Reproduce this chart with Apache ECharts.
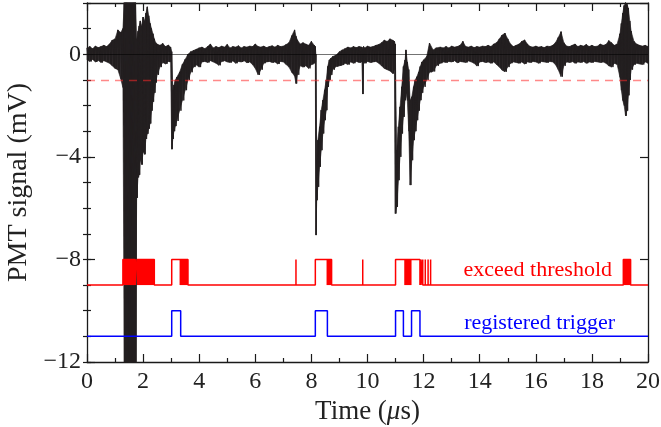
<!DOCTYPE html>
<html><head><meta charset="utf-8">
<script src="https://cdn.jsdelivr.net/npm/echarts@6/dist/echarts.min.js"></script>
<style>html,body{margin:0;padding:0;background:#fff}#c{width:661px;height:427px}</style>
</head><body><div id="c"></div>
<script>
// ---- data ----
// PMT trace: sample times (us), upper and lower edge of the noisy trace (mV)
const traceT = [0.0,0.1,0.2,0.3,0.4,0.5,0.6,0.7,0.8,0.9,1.0,1.1,1.2,1.28,
 1.33,1.37,1.41,1.45,1.49,1.53,1.57,1.61,1.65,1.69,1.73,
 1.77,1.82,1.86,1.90,1.95,2.00,2.05,2.10,2.15,2.20,2.25,2.30,2.35,2.40,2.45,2.50,2.60,2.70,2.80,2.90,2.98,
 3.02,3.06,3.10,3.15,3.20,3.30,3.40,3.50,3.60,3.70,3.80,3.90,4.00,
 4.1,4.2,4.3,4.4,4.5,4.6,4.7,4.8,4.9,5.0,5.1,5.2,5.3,5.4,5.5,5.6,5.7,5.8,5.9,6.0,6.1,6.2,6.3,6.4,6.5,6.6,6.7,6.8,6.9,7.0,
 7.1,7.2,7.3,7.4,7.45,7.5,7.6,7.7,7.8,7.9,8.0,8.1,8.14,
 8.16,8.19,8.23,8.29,8.35,8.41,8.47,8.53,8.58,8.64,8.70,8.76,8.88,
 9.0,9.1,9.2,9.3,9.4,9.5,9.6,9.7,9.8,9.83,9.86,9.9,10.0,10.1,10.2,10.3,10.4,10.5,10.6,10.7,10.8,10.9,10.96,
 10.99,11.04,11.10,11.16,11.22,11.28,11.34,11.37,11.42,11.47,11.52,11.58,11.64,11.70,11.76,11.82,11.88,11.94,12.00,12.11,12.21,12.34,12.45,
 12.6,12.7,12.8,12.9,13.0,13.1,13.2,13.3,13.4,13.5,13.6,13.7,13.8,13.9,14.0,14.1,14.2,14.3,14.4,14.5,14.6,14.7,14.8,14.9,15.0,
 15.1,15.2,15.3,15.4,15.5,15.6,15.7,15.8,15.9,16.0,16.1,16.2,16.3,16.4,16.5,16.6,16.7,16.8,16.9,17.0,
 17.1,17.2,17.3,17.4,17.5,17.6,17.7,17.8,17.9,18.0,18.1,18.2,18.3,18.4,18.5,18.6,18.7,18.8,18.9,
 19.0,19.05,19.1,19.15,19.2,19.25,19.3,19.35,19.4,19.5,19.6,19.7,19.8,19.9,20.0];
const traceHi = [0.25,0.30,0.22,0.32,0.26,0.30,0.35,0.30,0.40,0.55,0.60,0.95,0.85,1.00,
 3,3,3,3,3,3,3,3,3,3,3,
 0.60,0.90,1.10,1.30,1.10,1.45,1.30,1.60,1.85,1.50,1.20,1.00,0.80,0.60,0.45,0.40,0.35,0.42,0.30,0.36,0.28,
 0.10,-1.40,-1.20,-1.00,-0.90,-0.70,-0.40,-0.20,0.00,0.10,0.15,0.20,0.25,
 0.28,0.22,0.30,0.40,0.25,0.30,0.26,0.32,0.28,0.38,0.25,0.30,0.28,0.33,0.25,0.30,0.28,0.32,0.30,0.40,0.30,0.28,0.32,0.26,0.30,0.33,0.28,0.35,0.30,0.32,
 0.38,0.45,0.72,0.95,0.70,0.56,0.40,0.45,0.40,0.35,0.50,0.35,0.30,
 0.00,-4.13,-3.35,-2.83,-2.18,-1.79,-1.39,-1.00,-0.48,-0.22,-0.15,-0.09,-0.03,
 0.10,0.17,0.22,0.28,0.25,0.30,0.26,0.30,0.28,0.20,0.30,0.25,0.32,0.28,0.30,0.35,0.38,0.45,0.55,0.50,0.60,0.55,0.50,
 0.40,-3.74,-2.83,-2.05,-1.27,-0.48,-0.22,0.17,-0.30,-0.60,-1.79,-1.66,-1.27,-1.00,-0.88,-0.70,-0.48,-0.30,-0.22,-0.09,0.44,0.17,0.25,
 0.28,0.25,0.30,0.25,0.32,0.28,0.30,0.35,0.50,0.30,0.28,0.32,0.26,0.30,0.28,0.32,0.30,0.35,0.30,0.40,0.45,0.60,0.75,0.82,0.60,
 0.40,0.30,0.35,0.40,0.50,0.56,0.40,0.30,0.28,0.32,0.28,0.30,0.26,0.32,0.30,0.35,0.45,0.65,0.88,0.45,
 0.32,0.30,0.35,0.40,0.30,0.35,0.32,0.38,0.30,0.35,0.30,0.32,0.40,0.35,0.38,0.53,0.45,0.35,0.40,
 0.80,1.20,1.60,1.90,2.05,1.95,1.80,1.30,0.90,0.50,0.40,0.35,0.32,0.35,0.30];
const traceLo = [-0.22,-0.28,-0.20,-0.30,-0.24,-0.32,-0.25,-0.30,-0.35,-0.45,-0.55,-0.60,-0.95,-1.30,
 -13,-13,-13,-13,-13,-13,-13,-13,-13,-13,-13,
 -5.60,-4.80,-4.70,-4.10,-4.30,-3.80,-3.90,-3.30,-3.10,-2.90,-2.70,-2.20,-1.85,-1.50,-1.10,-0.80,-0.50,-0.32,-0.38,-0.28,-0.30,
 -3.70,-3.30,-3.00,-2.80,-2.60,-2.20,-1.80,-1.40,-1.00,-0.70,-0.50,-0.42,-0.50,
 -0.30,-0.28,-0.32,-0.25,-0.30,-0.35,-0.43,-0.28,-0.25,-0.30,-0.32,-0.26,-0.35,-0.28,-0.30,-0.25,-0.33,-0.30,-0.40,-0.55,-0.80,-0.60,-0.35,-0.30,-0.28,-0.32,-0.30,-0.38,-0.28,-0.30,
 -0.40,-0.50,-0.70,-0.85,-1.14,-0.80,-0.45,-0.50,-0.45,-0.55,-0.40,-0.35,-0.30,
 -7.05,-5.69,-5.17,-4.39,-3.74,-3.09,-2.57,-2.18,-1.27,-1.00,-0.80,-0.60,-0.48,
 -0.45,-0.42,-0.35,-0.40,-0.30,-0.35,-0.28,-0.32,-0.30,-1.55,-0.30,-0.35,-0.28,-0.32,-0.30,-0.28,-0.35,-0.45,-0.55,-0.60,-0.65,-0.75,-0.60,
 -6.21,-5.95,-4.91,-4.00,-3.09,-2.44,-1.79,-1.50,-1.80,-3.00,-5.10,-4.13,-3.35,-3.00,-2.57,-2.20,-1.79,-1.50,-1.27,-1.00,-0.70,-0.67,-0.45,
 -0.35,-0.30,-0.32,-0.28,-0.30,-0.25,-0.33,-0.28,-0.30,-0.32,-0.26,-0.30,-0.35,-0.46,-0.30,-0.28,-0.32,-0.30,-0.35,-0.30,-0.40,-0.50,-0.62,-0.68,-0.50,
 -0.35,-0.30,-0.32,-0.35,-0.30,-0.38,-0.30,-0.32,-0.28,-0.30,-0.35,-0.28,-0.30,-0.32,-0.28,-0.30,-0.40,-0.60,-0.87,-0.45,
 -0.30,-0.32,-0.28,-0.35,-0.30,-0.32,-0.28,-0.35,-0.30,-0.32,-0.28,-0.30,-0.32,-0.30,-0.35,-0.45,-0.50,-0.35,-0.40,
 -0.90,-1.40,-1.80,-2.00,-2.40,-2.20,-1.60,-1.00,-0.60,-0.40,-0.35,-0.38,-0.40,-0.30,-0.35];

// "exceed threshold" digital signal (us)
const threshOpen = [[1.28,1.72],[1.78,2.40],[3.02,3.60],[8.14,8.72],[11.00,11.87],[19.12,19.38]];
const threshDense = [[1.28,1.72],[1.78,2.40],[3.30,3.60],[8.54,8.72],[11.31,11.57],[19.12,19.38]];
const threshSpikes = [7.45,9.83,11.91,11.97,12.06,12.16,12.25];
// "registered trigger" digital signal (us)
const triggerPulses = [[3.02,3.34],[8.14,8.57],[11.00,11.28],[11.57,11.87]];

const thresholdLevel = -1;
const threshLow = -9, threshHigh = -8;
const trigLow = -11, trigHigh = -10;
const xRange = [0, 20];
const yRange = [-12, 2];

// ---- build series data ----
const zig = [];
for (let i = 0; i < traceT.length; i++) {
  const t = traceT[i];
  const tn = i + 1 < traceT.length ? traceT[i + 1] : t;
  zig.push([t, traceHi[i]], [(t + tn) / 2, traceLo[i]]);
}
function stepSignal(pulses, spikes, lo, hi) {
  const ev = pulses.map(p => [p[0], p[1]]).concat(spikes.map(s => [s, s]));
  ev.sort((a, b) => a[0] - b[0]);
  const d = [[xRange[0], lo]];
  ev.forEach(([s, e]) => { d.push([s, lo], [s, hi], [e, hi], [e, lo]); });
  d.push([xRange[1], lo]);
  return d;
}
const redData = stepSignal(threshOpen, threshSpikes, threshLow, threshHigh);
const blueData = stepSignal(triggerPulses, [], trigLow, trigHigh);
const bandData = traceT.map((t, i) => [t, traceHi[i], traceLo[i]]);
const clampY = v => Math.max(yRange[0], Math.min(yRange[1], v));

const FONT = "'Liberation Serif', 'DejaVu Serif', serif";
const fmt = v => v < 0 ? '\u2212' + Math.abs(v) : String(v);
const INK = '#231f20';

const chart = echarts.init(document.getElementById('c'), null, {renderer: 'canvas'});
const axisLineStyle = {color: '#1a1a1a', width: 1.3};
const tickStyle = {color: '#1a1a1a', width: 1.2};
const baseX = (extra) => Object.assign({
  type: 'value', min: xRange[0], max: xRange[1], interval: 2,
  axisLine: {show: true, onZero: false, lineStyle: axisLineStyle},
  axisTick: {show: true, inside: true, length: 8, lineStyle: tickStyle},
  minorTick: {show: true, splitNumber: 2, length: 4, lineStyle: tickStyle},
  splitLine: {show: false}, minorSplitLine: {show: false}
}, extra);
const baseY = (extra) => Object.assign({
  type: 'value', min: yRange[0], max: yRange[1],
  axisLine: {show: true, onZero: false, lineStyle: axisLineStyle},
  splitLine: {show: false}
}, extra);

chart.setOption({
  animation: false,
  backgroundColor: '#fff',
  grid: {left: 87, right: 13, top: 3, bottom: 65, containLabel: false, outerBoundsMode: 'none'},
  xAxis: [
    baseX({position: 'bottom',
      axisLabel: {show: true, color: '#222', fontFamily: FONT, fontSize: 24, margin: 8, formatter: fmt},
      name: 'Time ({i|\u03bc}s)', nameLocation: 'middle', nameGap: 35,
      nameTextStyle: {color: '#222', fontFamily: FONT, fontSize: 27,
        rich: {i: {fontStyle: 'italic', fontFamily: FONT, fontSize: 27, color: '#222'}}}}),
    baseX({position: 'top', axisLabel: {show: false}})
  ],
  yAxis: [
    baseY({position: 'left', interval: 4,
      axisTick: {show: true, inside: true, length: 8, lineStyle: tickStyle},
      axisLabel: {show: true, color: '#222', fontFamily: FONT, fontSize: 24, margin: 6, formatter: fmt, showMaxLabel: false},
      name: 'PMT signal (mV)', nameLocation: 'middle', nameGap: 52, nameRotate: 90,
      nameTextStyle: {color: '#222', fontFamily: FONT, fontSize: 28}}),
    baseY({position: 'left', interval: 1, axisLine: {show: false},
      axisTick: {show: true, inside: true, length: 4, lineStyle: tickStyle},
      axisLabel: {show: false}}),
    baseY({position: 'right', interval: 4,
      axisTick: {show: true, inside: true, length: 8, lineStyle: tickStyle},
      axisLabel: {show: false}}),
    baseY({position: 'right', interval: 1, axisLine: {show: false},
      axisTick: {show: true, inside: true, length: 4, lineStyle: tickStyle},
      axisLabel: {show: false}})
  ],
  series: [
    {type: 'custom', data: bandData, z: 2, silent: true,
     encode: {x: 0, y: [1, 2]},
     renderItem: function (params, api) {
       const i = params.dataIndex;
       if (i >= traceT.length - 1) return null;
       const pts = [
         api.coord([traceT[i], clampY(traceHi[i])]),
         api.coord([traceT[i + 1], clampY(traceHi[i + 1])]),
         api.coord([traceT[i + 1], clampY(traceLo[i + 1])]),
         api.coord([traceT[i], clampY(traceLo[i])])
       ];
       return {type: 'polygon', shape: {points: pts},
         style: {fill: INK, stroke: INK, lineWidth: 0.6}};
     }},
    {type: 'line', data: zig, showSymbol: false, symbol: 'none', clip: true,
     lineStyle: {color: INK, width: 1}, z: 2, silent: true},
    {type: 'line', data: [], z: 3, silent: true,
     markLine: {silent: true, symbol: 'none', label: {show: false}, animation: false,
       data: [
         {yAxis: 0, lineStyle: {color: 'rgba(0,0,0,0.55)', width: 1, type: 'solid'}},
         {yAxis: thresholdLevel, lineStyle: {color: 'rgba(255,40,40,0.55)', width: 1.3, type: [8, 6]}}
       ]}},
    {type: 'line', data: redData, showSymbol: false, symbol: 'none', clip: true,
     lineStyle: {color: '#ff0000', width: 1.5}, z: 4, silent: true,
     markArea: {silent: true, z: 5, itemStyle: {color: '#ff0000', opacity: 1},
       data: threshDense.map(([s, e]) => [{xAxis: s, yAxis: threshLow}, {xAxis: e, yAxis: threshHigh}])}},
    {type: 'line', data: blueData, showSymbol: false, symbol: 'none', clip: true,
     lineStyle: {color: '#0000ff', width: 1.5}, z: 4, silent: true}
  ],
  graphic: [
    {type: 'text', right: 49, top: 259, z: 10,
     style: {text: 'exceed threshold', fill: '#ff0000', font: "22px 'Liberation Serif', serif"}},
    {type: 'text', right: 46, top: 312, z: 10,
     style: {text: 'registered trigger', fill: '#0000ff', font: "22px 'Liberation Serif', serif"}}
  ]
});
</script></body></html>
